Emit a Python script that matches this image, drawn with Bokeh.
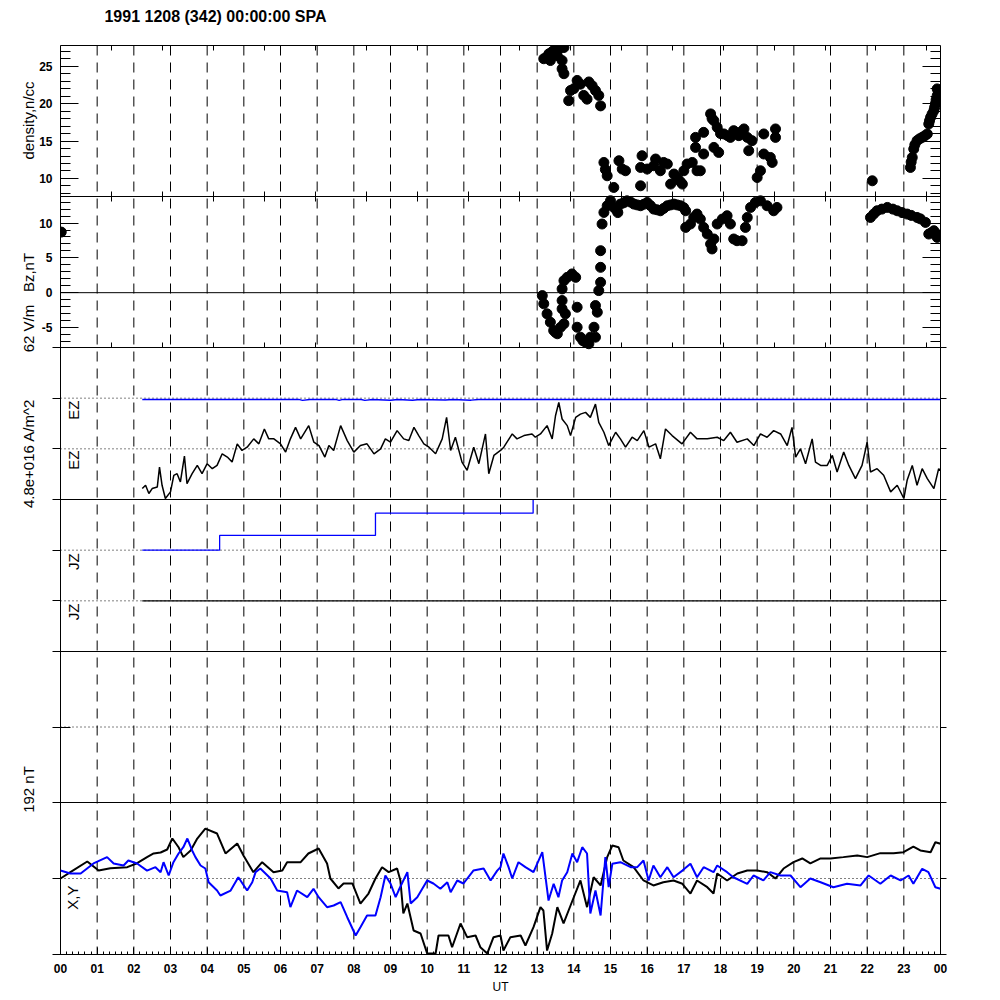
import math
from bokeh.plotting import figure
from bokeh.models import LinearAxis, FixedTicker, Span, Label, Range1d
from bokeh.embed import file_html
from bokeh.resources import INLINE

FONT = "Liberation Sans"

# ---------------- data ----------------
title_text = "1991 1208 (342) 00:00:00 SPA"
hour_ticks = list(range(25))
hour_labels = ["00", "01", "02", "03", "04", "05", "06", "07", "08", "09", "10", "11",
               "12", "13", "14", "15", "16", "17", "18", "19", "20", "21", "22", "23", "00"]
minor_hour_ticks = [i / 6 for i in range(145)]
top_ticks = [0, 1.39, 2.78, 4.17, 5.56, 6.95, 8.34, 9.73, 11.12, 12.51, 13.9, 15.29,
             16.68, 18.07, 19.46, 20.85, 22.24, 23.63]

dens_ticks = [10, 15, 20, 25]
dens_tick_labels = ["10", "15", "20", "25"]
bz_ticks = [-5, 0, 5, 10]
bz_tick_labels = ["-5", "0", "5", "10"]
side_titles = ["density,n/cc", "Bz,nT", "62 V/m", "4.8e+016 A/m^2", "192 nT"]

# density (n/cc) points: (UT hour, value)
density = [
    (13.18, 26.0), (13.32, 26.66), (13.45, 27.1), (13.59, 27.3), (13.73, 27.5), (13.36, 25.76),
    (13.68, 25.76), (13.55, 26.4), (13.25, 26.2), (13.4, 26.9),
    (13.68, 24.65), (13.73, 24.0), (13.91, 21.75), (13.86, 20.4), (14.09, 23.1), (14.18, 22.6),
    (14.27, 21.1), (14.41, 22.9), (14.5, 22.4), (14.59, 21.75), (14.68, 21.1), (14.73, 19.7),
    (14.36, 20.6), (14.0, 22.0),
    (14.82, 12.14), (14.91, 10.36), (15.09, 8.8), (15.23, 12.37), (15.32, 11.26), (15.41, 11.03),
    (15.86, 13.04), (15.82, 11.47), (15.82, 9.02), (16.0, 11.26), (16.23, 12.6), (16.36, 11.03),
    (16.45, 12.14), (16.55, 11.93), (16.64, 9.25), (16.73, 10.59), (16.82, 10.13), (16.96, 9.25),
    (17.0, 11.03), (17.09, 11.93), (17.23, 12.14), (17.36, 11.03), (17.45, 11.03), (14.86, 11.2),
    (16.18, 11.7), (16.9, 9.6),
    (17.32, 15.49), (17.54, 16.16), (17.32, 14.15), (17.54, 13.27), (17.73, 18.63), (17.82, 17.73),
    (17.91, 16.83), (17.82, 14.15), (17.95, 13.48), (18.09, 15.95), (18.27, 15.49), (18.36, 16.39),
    (18.5, 15.72), (18.64, 16.62), (18.73, 15.49), (18.86, 15.05), (18.77, 13.71), (19.0, 10.13),
    (19.09, 11.03), (19.18, 13.27), (19.36, 12.81), (19.41, 12.14), (19.18, 15.95), (19.5, 16.62),
    (19.5, 15.49), (17.77, 18.0), (18.0, 16.0), (18.2, 15.7), (18.43, 16.0), (18.55, 16.2),
    (22.14, 9.69),
    (23.18, 11.47), (23.23, 12.81), (23.27, 13.94), (23.36, 15.05), (23.5, 15.49), (23.64, 15.95),
    (23.68, 17.29), (23.73, 18.17), (23.82, 19.07), (23.86, 19.96), (23.91, 21.08), (23.91, 21.97),
    (23.2, 12.2), (23.3, 14.5), (23.43, 15.3), (23.57, 15.7), (23.7, 17.7), (23.77, 18.6),
    (23.84, 19.5), (23.88, 20.5), (23.95, 21.5), (23.97, 20.3),
]

# Bz (nT) points
bz = [
    (0.02, 8.7),
    (13.14, -0.42), (13.18, -1.6), (13.27, -3.04), (13.36, -4.24), (13.45, -5.43), (13.55, -5.9),
    (13.64, -4.96), (13.73, -4.47), (13.77, -3.04), (13.68, -2.32), (13.68, -1.13), (13.68, 0.54),
    (13.73, 1.73), (13.82, 2.2), (13.95, 2.69), (14.05, 2.2), (14.09, -2.09), (13.5, -5.7),
    (14.09, -4.96), (14.18, -6.39), (14.32, -7.1), (14.41, -7.33), (14.45, -6.39), (14.55, -4.96),
    (14.59, -6.39), (14.59, -1.85), (14.64, -2.8), (14.25, -6.9), (14.36, -7.2),
    (14.68, 0.3), (14.73, 1.49), (14.73, 3.64), (14.73, 6.03), (14.77, 9.86), (14.82, 11.52),
    (14.91, 12.48), (15.0, 13.2),
    (15.18, 11.76), (15.27, 12.72), (15.45, 13.19), (15.64, 12.72), (15.82, 12.48), (16.0, 12.95),
    (16.18, 12.0), (16.36, 11.76), (16.55, 12.48), (16.73, 12.72), (16.91, 12.48), (17.05, 11.76),
    (17.05, 9.37), (17.18, 9.86), (17.27, 10.8), (17.36, 11.29), (17.45, 10.57), (17.54, 9.37),
    (17.64, 8.42), (17.73, 6.99), (17.77, 6.28), (17.82, 7.71), (17.91, 9.86), (18.05, 10.57),
    (18.18, 11.05), (18.27, 9.86), (18.36, 7.71), (18.45, 7.46), (18.59, 7.46), (18.68, 9.37),
    (18.73, 10.8), (18.82, 12.24), (18.95, 12.95), (19.09, 13.19), (19.27, 12.48), (19.45, 11.76),
    (19.54, 12.24), (15.1, 12.2), (15.36, 12.9), (15.55, 13.0), (15.73, 12.6), (15.91, 12.7),
    (16.09, 12.5), (16.27, 11.9), (16.45, 12.1), (16.64, 12.6), (16.82, 12.6), (17.0, 12.2),
    (15.2, 11.5),
    (22.09, 10.8), (22.27, 11.76), (22.55, 12.24), (22.82, 11.76), (23.09, 11.29), (23.36, 10.8),
    (23.59, 10.09), (23.68, 8.42), (23.82, 8.9), (23.91, 7.94), (22.18, 11.3), (22.4, 12.0),
    (22.7, 12.0), (22.95, 11.5), (23.2, 11.1), (23.45, 10.6), (23.75, 8.6), (23.95, 8.3),
]

# EZ (black), relative to its baseline
ez_black = [
    (2.23, -48.6), (2.32, -44.6), (2.41, -54.7), (2.5, -48.6), (2.64, -46.6), (2.7, -22.3),
    (2.77, -44.6), (2.86, -60.8), (3.0, -52.7), (3.09, -32.4), (3.18, -30.4), (3.27, -40.5),
    (3.38, -8.9), (3.45, -42.5), (3.59, -30.4), (3.73, -20.3), (3.86, -30.4), (4.0, -18.2),
    (4.14, -24.3), (4.27, -20.3), (4.41, -6.1), (4.55, -10.1), (4.68, -16.2), (4.82, 6.1),
    (4.95, -2.0), (5.09, 2.0), (5.27, 12.2), (5.41, 6.1), (5.56, 24.3), (5.68, 12.2),
    (5.82, 12.2), (6.0, 6.1), (6.14, -4.0), (6.27, 12.2), (6.41, 26.3), (6.55, 12.2),
    (6.77, 28.4), (6.91, 8.1), (7.05, 4.0), (7.21, -10.1), (7.32, 4.0), (7.45, -2.0),
    (7.64, 28.4), (7.82, 10.1), (8.0, -4.0), (8.18, 4.0), (8.36, 6.1), (8.55, -6.1),
    (8.73, 0.0), (8.86, 12.2), (9.0, 8.1), (9.18, 22.3), (9.36, 12.2), (9.5, 10.1),
    (9.64, 26.3), (9.77, 16.2), (9.91, 6.1), (10.05, 2.0), (10.23, -6.1), (10.41, 12.2),
    (10.53, 38.5), (10.64, -2.0), (10.77, 14.2), (10.95, -16.2), (11.09, -26.3), (11.27, 2.0),
    (11.41, -18.2), (11.59, 18.2), (11.68, -30.4), (11.82, -8.1), (12.0, -2.0), (12.09, 2.0),
    (12.32, 18.2), (12.45, 12.2), (12.64, 16.2), (12.86, 18.2), (12.95, 14.2), (13.09, 18.2),
    (13.27, 28.4), (13.41, 12.2), (13.5, 40.5), (13.59, 56.7), (13.68, 36.5), (13.82, 28.4),
    (13.91, 16.2), (14.05, 38.5), (14.18, 42.5), (14.32, 44.6), (14.45, 38.5), (14.59, 54.7),
    (14.68, 32.4), (14.82, 20.3), (14.95, 4.0), (15.14, 20.3), (15.27, 12.2), (15.41, 2.0),
    (15.59, 14.2), (15.73, 10.1), (15.91, 22.3), (16.05, 2.0), (16.23, 6.1), (16.36, -12.2),
    (16.5, 24.3), (16.68, 16.2), (16.95, 6.1), (17.18, 20.3), (17.36, 12.2), (17.64, 12.2),
    (17.91, 14.2), (18.09, 10.1), (18.27, 20.3), (18.45, 8.1), (18.73, 12.2), (18.91, 4.0),
    (19.09, 18.2), (19.27, 14.2), (19.45, 22.3), (19.64, 18.2), (19.82, 4.0), (19.95, 26.3),
    (20.05, -10.1), (20.18, 0.0), (20.32, -18.2), (20.5, 12.2), (20.59, -16.2), (20.73, -20.3),
    (20.91, -20.3), (21.05, -8.1), (21.18, -28.4), (21.36, -4.0), (21.5, -20.3), (21.68, -36.5),
    (21.86, -20.3), (22.0, 8.1), (22.09, -28.4), (22.27, -24.3), (22.45, -32.4), (22.64, -52.7),
    (22.82, -44.6), (23.0, -60.8), (23.09, -38.5), (23.23, -20.3), (23.36, -44.6), (23.5, -24.3),
    (23.64, -36.5), (23.82, -48.6), (23.95, -24.3), (24.0, -26.3),
]

# EZ (blue), nearly flat on its own baseline
ez_blue = [
    (2.23, 60.5), (6.5, 60.5), (6.6, 59.3), (6.8, 60.5), (7.5, 60.5), (7.6, 59.3), (7.7, 60.5),
    (8.2, 60.3), (8.3, 59.3), (8.5, 60.5), (9.0, 59.5), (9.2, 60.5), (9.6, 59.5), (9.8, 60.5),
    (10.5, 59.8), (10.7, 60.5), (11.2, 59.6), (11.4, 60.5), (24.0, 60.5),
]

# JZ (blue) steps and JZ (black) flat trace
jz_blue_h = [2.23, 4.34, 8.59, 12.89]
jz_blue_v = [4.8, 6.2, 8.3, 9.6]
jz_black_h = [2.23, 24.0]
jz_black_v = [0.0, 0.0]

# X component (black), nT
x_trace = [
    (0, 0), (0.27, 8), (0.73, 21.5), (1.04, 10), (1.36, 13), (1.82, 14.3), (2.09, 19.3),
    (2.36, 27), (2.54, 31.6), (2.73, 32.8), (2.91, 36.6), (3.05, 50.5), (3.22, 39.5), (3.35, 27),
    (3.55, 35.4), (3.73, 50.5), (3.95, 63), (4.27, 56.8), (4.5, 31.6), (4.82, 44.2), (4.99, 29),
    (5.26, 8), (5.5, 20.6), (5.81, 8), (6.05, 10), (6.18, 20.6), (6.55, 20.6), (6.76, 31.6),
    (7.04, 37.9), (7.27, 19), (7.36, 0), (7.58, -12.6), (7.72, -6.3), (7.96, -6.3), (8.18, -31.6),
    (8.4, -19), (8.59, 0), (8.77, 14.3), (8.95, 8), (9.18, 12.6), (9.27, -2.5), (9.35, -44.2),
    (9.46, -31.6), (9.63, -65.7), (9.82, -69.5), (10.0, -94.7), (10.23, -94.7), (10.31, -72),
    (10.58, -72), (10.68, -86.8), (10.91, -56.8), (11.09, -74.1), (11.32, -72), (11.45, -86.8),
    (11.64, -94.7), (11.81, -74.1), (12.0, -72), (12.08, -91), (12.27, -74.1), (12.55, -72),
    (12.68, -84.6), (12.9, -61.5), (13.09, -36.2), (13.17, -40.4), (13.27, -91), (13.41, -69.5),
    (13.55, -36.2), (13.72, -56.8), (13.91, -34.1), (14.18, -2.5), (14.36, -36.2), (14.54, 1.6),
    (14.73, -8.8), (14.91, 27), (15.05, 41.7), (15.22, 39.5), (15.35, 22.7), (15.63, 14.3),
    (15.9, -2.5), (16.17, -8.8), (16.44, -4.7), (16.72, -2.5), (16.96, -6.7), (17.18, -19),
    (17.36, -2.5), (17.64, -11), (17.81, -19), (17.91, 6.3), (18.18, -2.5), (18.46, 6.3),
    (18.73, 10), (19.0, 10), (19.27, 8), (19.5, 0), (19.72, 12.6), (19.99, 20.6), (20.23, 25.3),
    (20.45, 19), (20.73, 25.3), (21.0, 25.3), (21.35, 27), (21.73, 29), (22.0, 27), (22.36, 32),
    (22.72, 32), (22.99, 33.2), (23.26, 40.4), (23.45, 35.4), (23.73, 33.2), (23.86, 45.8),
    (24.0, 43.8),
]

# Y component (blue), nT
y_trace = [
    (0, 10), (0.27, 6.3), (0.55, 6.3), (0.9, 19), (1.27, 27), (1.45, 19), (1.72, 16.4),
    (1.85, 22.7), (2.09, 19), (2.36, 10), (2.59, 14.3), (2.73, 8), (2.81, 20.6), (2.95, 3.8),
    (3.08, 20.6), (3.22, 31.6), (3.35, 39.5), (3.46, 50.5), (3.59, 35.4), (3.68, 27), (3.82, 16.4),
    (3.95, 12.6), (4.04, -4.7), (4.27, -15.2), (4.36, -21.5), (4.64, -15.2), (4.85, 1.6),
    (5.09, -15.2), (5.23, -4.7), (5.32, 8), (5.45, 12.6), (5.73, 0), (5.91, -15.2), (6.18, -17.3),
    (6.27, -36.2), (6.45, -15.2), (6.73, -23.6), (6.9, -13), (7.04, -23.6), (7.27, -36.2),
    (7.45, -34.1), (7.64, -29.9), (7.82, -48.9), (8.05, -72), (8.18, -61.5), (8.36, -46.7),
    (8.59, -46.7), (8.73, -23.6), (8.86, 3.8), (9.0, -6.3), (9.14, -23.6), (9.22, -15.2),
    (9.46, 8), (9.55, -31.6), (9.73, -23.6), (10.0, -2.5), (10.17, -6.3), (10.36, -13),
    (10.55, -4.7), (10.64, -17.3), (10.82, -2.5), (10.99, -6.3), (11.26, 10), (11.54, 12.6),
    (11.73, -2.5), (11.91, 10), (12.0, 14.3), (12.08, 31.6), (12.22, 14.3), (12.32, 0),
    (12.49, 20.6), (12.68, 14.3), (12.9, 8), (13.14, 33.2), (13.31, -27.8), (13.45, -6.7),
    (13.58, -23.6), (13.68, -2.5), (13.82, 8), (13.96, 31.6), (14.09, 20.6), (14.23, 39.5),
    (14.36, 31.6), (14.45, -44.2), (14.59, -15.2), (14.73, -46.7), (14.86, 27), (14.95, -11),
    (15.05, 18.6), (15.27, 20.6), (15.55, 14.3), (15.73, 14.3), (15.9, 22.7), (16.04, -2.5),
    (16.17, 16.4), (16.36, 1.6), (16.55, 14.3), (16.72, 1.6), (16.96, 10), (17.18, 18.6),
    (17.36, 1.6), (17.54, 14.3), (17.81, 8), (17.91, 16.4), (18.18, 8), (18.35, 1.6),
    (18.73, -6.7), (18.9, 3.8), (19.17, -2.5), (19.36, 8), (19.64, 3.8), (19.91, 3.8),
    (20.18, -11), (20.45, 0), (20.73, -4.7), (21.08, -11), (21.45, -6.7), (21.82, -8.8),
    (22.04, 3.8), (22.36, -6.7), (22.64, 3.8), (22.91, -2.5), (23.13, 3.8), (23.26, -6.7),
    (23.5, 12.3), (23.67, 8), (23.86, -11), (24.0, -13),
]

# ---------------- layout of the stacked panels (screen px within the canvas) ----------------
FT, FB = 45, 954
slots = {
    "dens": (45, 196, 7.59, 27.77),
    "bz": (196, 347, -7.87, 13.81),
    "ez": (347, 499, -62.0, 124.0),
    "jz": (499, 651, -4.8, 9.6),
    "blank": (651, 802, -1.0, 1.0),
    "default": (802, 954, -96.0, 96.0),
}


def slot_range(top, bot, vb, vt):
    k = (vt - vb) / (bot - top)
    return Range1d(vb - (FB - bot) * k, vt + (top - FT) * k)


def px_to_default(px):
    top, bot, vb, vt = slots["default"]
    k = (vt - vb) / (bot - top)
    return vt - (px - top) * k


def to_default(name, v):
    top, bot, vb, vt = slots[name]
    k = (vt - vb) / (bot - top)
    return px_to_default(top + (vt - v) / k)


R = {k: slot_range(*v) for k, v in slots.items()}

p = figure(title=None, frame_width=880, frame_height=FB - FT, x_range=Range1d(0, 24),
           y_range=R["default"], extra_y_ranges={k: v for k, v in R.items() if k != "default"},
           x_axis_location=None, y_axis_location=None,
           min_border_left=60, min_border_right=60, min_border_top=45, min_border_bottom=46,
           output_backend="svg", toolbar_location=None,
           background_fill_color="white", border_fill_color="white",
           outline_line_color="black", outline_line_width=1)
p.grid.visible = False


def unzip(pairs):
    return [a for a, _ in pairs], [b for _, b in pairs]


# title as a single label of an axis above the frame
title_x = (215 - 60) / 36.667
title_axis = LinearAxis(ticker=FixedTicker(ticks=[title_x], minor_ticks=[]),
                        major_label_overrides={title_x: title_text},
                        major_tick_in=0, major_tick_out=0, major_tick_line_color=None,
                        axis_line_color=None, major_label_standoff=21,
                        major_label_text_font=FONT, major_label_text_font_size="16px",
                        major_label_text_font_style="bold", major_label_text_color="black")
p.add_layout(title_axis, "above")

# ---------------- guides ----------------
for h in range(1, 24):
    p.add_layout(Span(location=h, dimension="height", line_color="black", line_width=1,
                      line_dash="10 7", level="underlay"))

for name in ["bz", "ez", "jz", "blank", "default"]:
    p.add_layout(Span(location=slots[name][3], dimension="width", y_range_name=name,
                      line_color="black", line_width=1))
p.add_layout(Span(location=0, dimension="width", y_range_name="bz", line_color="black", line_width=1))

for name, loc in [("ez", 0), ("ez", 62), ("jz", 0), ("jz", 4.8), ("blank", 0), ("default", 0)]:
    p.add_layout(Span(location=loc, dimension="width", y_range_name=name, line_color="black",
                      line_width=1, line_dash="1 3", level="underlay"))


def inner_axis(name, side, ticks, minor=(), tin=0, min_in=0):
    ax = LinearAxis(y_range_name=name, fixed_location=0 if side == "left" else 24,
                    ticker=FixedTicker(ticks=list(ticks), minor_ticks=list(minor)),
                    major_tick_in=tin, major_tick_out=0, minor_tick_in=min_in, minor_tick_out=0,
                    axis_line_color=None, major_tick_line_color="black",
                    minor_tick_line_color="black",
                    major_label_overrides={t: "" for t in ticks})
    p.add_layout(ax, side)


inner_axis("dens", "left", dens_ticks, range(8, 28), 18, 10)
inner_axis("dens", "right", dens_ticks, range(8, 28), 18, 10)
inner_axis("bz", "left", bz_ticks, range(-7, 14), 18, 10)
inner_axis("bz", "right", bz_ticks, range(-7, 14), 18, 10)
inner_axis("blank", "left", [0], tin=10)

for name in ["dens", "bz"]:
    for side, loc in [("above", slots[name][3]), ("below", slots[name][2])]:
        ax = LinearAxis(y_range_name=name, fixed_location=loc,
                        ticker=FixedTicker(ticks=top_ticks, minor_ticks=[]),
                        major_tick_in=5, major_tick_out=0, axis_line_color=None,
                        major_tick_line_color="black",
                        major_label_overrides={t: "" for t in top_ticks})
        p.add_layout(ax, side)

# outward stubs at the lower panels' boundaries and baselines
stub_pos = [to_default("ez", v) for v in (124, 62, 0, -62)] + \
           [to_default("jz", v) for v in (4.8, 0, -4.8)] + \
           [to_default("blank", 0), to_default("blank", -1), to_default("default", 0),
            to_default("default", -96)]

num_pos = [to_default("dens", t) for t in dens_ticks] + [to_default("bz", t) for t in bz_ticks]
num_txt = dens_tick_labels + bz_tick_labels
left_num = LinearAxis(ticker=FixedTicker(ticks=num_pos, minor_ticks=stub_pos),
                      major_label_overrides=dict(zip(num_pos, num_txt)),
                      major_tick_in=0, major_tick_out=8, major_tick_line_color=None,
                      minor_tick_in=0, minor_tick_out=8, minor_tick_line_color="black",
                      axis_line_color=None, major_label_standoff=0,
                      major_label_text_font=FONT, major_label_text_font_size="12px",
                      major_label_text_font_style="bold", major_label_text_color="black")
p.add_layout(left_num, "left")

title_pos = [px_to_default(v) for v in (120, 272, 328, 453, 789)]
left_titles = LinearAxis(ticker=FixedTicker(ticks=title_pos, minor_ticks=[]),
                         major_label_overrides=dict(zip(title_pos, side_titles)),
                         major_label_orientation="vertical",
                         major_tick_in=0, major_tick_out=0, major_tick_line_color=None,
                         axis_line_color=None, major_label_standoff=0,
                         major_label_text_font=FONT, major_label_text_font_size="15px",
                         major_label_text_color="black")
p.add_layout(left_titles, "left")

right_stub = LinearAxis(ticker=FixedTicker(ticks=[], minor_ticks=stub_pos),
                        minor_tick_in=0, minor_tick_out=6, minor_tick_line_color="black",
                        major_tick_line_color=None, axis_line_color=None)
p.add_layout(right_stub, "right")

xa = LinearAxis(ticker=FixedTicker(ticks=hour_ticks, minor_ticks=minor_hour_ticks),
                major_label_overrides=dict(zip(hour_ticks, hour_labels)),
                major_tick_in=7, major_tick_out=0, minor_tick_in=3, minor_tick_out=0,
                axis_line_color="black", major_tick_line_color="black",
                minor_tick_line_color="black", major_label_standoff=9,
                major_label_text_font=FONT, major_label_text_font_size="12px",
                major_label_text_font_style="bold", major_label_text_color="black",
                axis_label="UT", axis_label_standoff=4, axis_label_text_font=FONT,
                axis_label_text_font_size="12px", axis_label_text_font_style="normal",
                axis_label_text_color="black")
p.add_layout(xa, "below")

# ---------------- data marks ----------------
dh, dv = unzip(density)
p.scatter(dh, dv, size=10, color="black", y_range_name="dens")
bh, bv = unzip(bz)
p.scatter(bh, bv, size=10, color="black", y_range_name="bz")

eh, ev = unzip(ez_black)
p.line(eh, ev, line_color="black", line_width=1.5, y_range_name="ez")
ebh, ebv = unzip(ez_blue)
p.line(ebh, ebv, line_color="#0000ff", line_width=1.5, y_range_name="ez")

p.step(jz_blue_h, jz_blue_v, mode="after", line_color="#0000ff", line_width=1.3, y_range_name="jz")
p.line(jz_black_h, jz_black_v, line_color="black", line_width=1.3, y_range_name="jz")

xh, xv = unzip(x_trace)
p.line(xh, xv, line_color="black", line_width=2)
yh, yv = unzip(y_trace)
p.line(yh, yv, line_color="#0000ff", line_width=2)

# ---------------- in-panel texts ----------------
def lab(text, x, y, rng, size, angle=0.0, align="center"):
    p.add_layout(Label(x=x, y=y, y_range_name=rng, text=text, text_font=FONT,
                       text_font_size=size, text_color="black",
                       angle=angle, text_align=align, text_baseline="middle"))


V = math.pi / 2
lab("EZ", 0.355, 59.1, "ez", "15px", angle=V, align="right")
lab("EZ", 0.355, -2.0, "ez", "15px", angle=V, align="right")
lab("JZ", 0.355, 4.49, "jz", "15px", angle=V, align="right")
lab("JZ", 0.355, -0.25, "jz", "15px", angle=V, align="right")
lab("X,Y", 0.33, -8.8, "default", "15px", angle=V, align="right")

open("out.html", "w").write(file_html(p, INLINE))
